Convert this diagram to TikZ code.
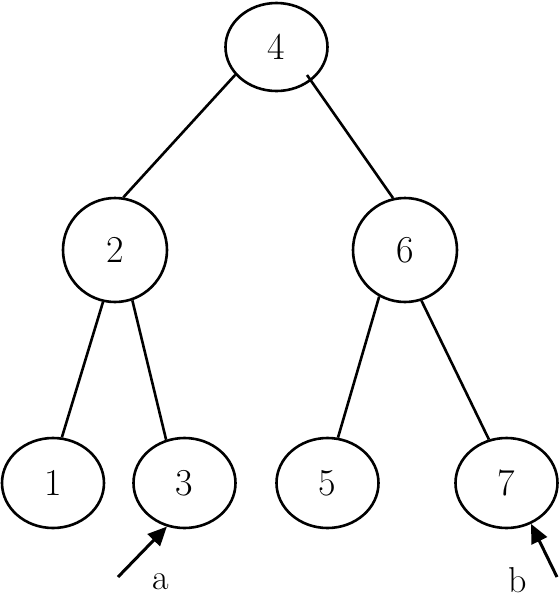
\documentclass[tikz,border=0pt]{standalone}
\usetikzlibrary{shapes.geometric,arrows.meta,calc}
\begin{document}
\begin{tikzpicture}[x=1pt,y=-1pt,
  tnode/.style={draw,ellipse,line width=2.6pt,inner sep=0pt,font=\fontsize{38}{40}\selectfont},
  edge/.style={line width=2.6pt},
  pointer/.style={line width=3pt,-{Triangle[length=19pt,width=17pt]}},
  lbl/.style={font=\fontsize{36}{38}\selectfont,inner sep=0pt}]
\useasboundingbox (0,0) rectangle (560,598);
\node[tnode,minimum width=102pt,minimum height=88pt] (n4) at (276.5,47) {4};
\node[tnode,minimum width=104pt,minimum height=104pt] (n2) at (115,250) {2};
\node[tnode,minimum width=104pt,minimum height=104pt] (n6) at (405,250) {6};
\node[tnode,minimum width=102pt,minimum height=90pt] (n1) at (53,483) {1};
\node[tnode,minimum width=102pt,minimum height=90pt] (n3) at (184.5,483) {3};
\node[tnode,minimum width=102pt,minimum height=90pt] (n5) at (327.5,483) {5};
\node[tnode,minimum width=102pt,minimum height=90pt] (n7) at (506.5,483) {7};
\draw[edge] (n4.214) -- (n2.81);
\draw[edge] ($(n4.center)+(30.5,28)$) -- (n6.103);
\draw[edge] (n2.257) -- (n1.79);
\draw[edge] (n2.289) -- (n3.113);
\draw[edge] (n6.241.5) -- (n5.77);
\draw[edge] (n6.288) -- (n7.112);
\coordinate (pa) at (118,577);
\coordinate (pb) at (557,577);
\draw[pointer] (pa) -- (n3.248);
\draw[pointer] (pb) -- (n7.301);
\node[lbl] (la) at (161,582) {a};
\node[lbl] (lb) at (518,580) {b};
\end{tikzpicture}
\end{document}
